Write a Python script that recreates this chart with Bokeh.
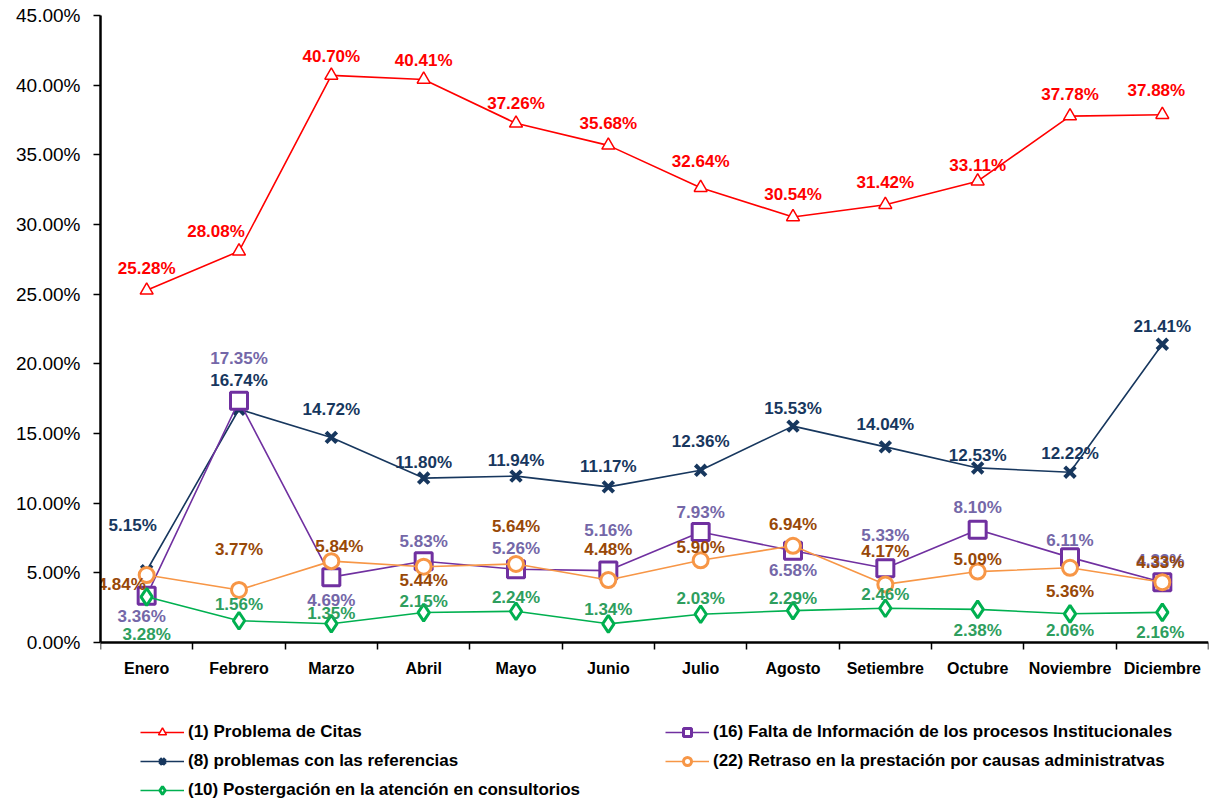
from bokeh.plotting import figure
from bokeh.models import (ColumnDataSource, Range1d, FixedTicker, PrintfTickFormatter,
                          Legend, LegendItem)
from bokeh.core.properties import value
from bokeh.embed import file_html
from bokeh.resources import INLINE

months = ["Enero", "Febrero", "Marzo", "Abril", "Mayo", "Junio", "Julio",
          "Agosto", "Setiembre", "Octubre", "Noviembre", "Diciembre"]

citas = [25.28, 28.08, 40.70, 40.41, 37.26, 35.68, 32.64, 30.54, 31.42, 33.11, 37.78, 37.88]
referencias = [5.15, 16.74, 14.72, 11.80, 11.94, 11.17, 12.36, 15.53, 14.04, 12.53, 12.22, 21.41]
falta_info = [3.36, 17.35, 4.69, 5.83, 5.26, 5.16, 7.93, 6.58, 5.33, 8.10, 6.11, 4.33]
retraso = [4.84, 3.77, 5.84, 5.44, 5.64, 4.48, 5.90, 6.94, 4.17, 5.09, 5.36, 4.33]
postergacion = [3.28, 1.56, 1.35, 2.15, 2.24, 1.34, 2.03, 2.29, 2.46, 2.38, 2.06, 2.16]

names = ["(1) Problema de Citas",
         "(8) problemas con las referencias",
         "(16) Falta de Información de los procesos Institucionales",
         "(22) Retraso en la prestación por causas administratvas",
         "(10) Postergación en la atención en consultorios"]

y_ticks = [0, 5, 10, 15, 20, 25, 30, 35, 40, 45]

# label placement (screen px offsets from each point)
citas_dx = [0, -23, 0, 0, 0, 0, 0, 0, 0, 0, 0, -6]
citas_dy = [-22, -20, -19, -19, -20, -22, -26, -22, -22, -16, -22, -24]
ref_dx = [-14, 0, 0, 0, 0, 0, 0, 0, 0, 0, 0, 0]
ref_dy = [-45, -29, -28, -16, -16, -20, -29, -18, -22, -12, -19, -18]
falta_dx = [-5, 0, 0, 0, 0, 0, 0, 0, 0, 0, 0, -2]
falta_dy = [21, -42, 23, -20, -21, -40, -20, 20, -33, -22, -17, -22]
retraso_dx = [-25, 0, 8, 0, 0, 0, 0, 0, 0, 0, 0, -2]
retraso_dy = [9, -40, -15, 14, -37, -31, -13, -21, -33, -12, 24, -20]
post_dx = [0, 0, 0, 0, 0, 0, 0, 0, 0, 0, 0, -2]
post_dy = [38, -16, -10, -11, -14, -14, -16, -12, -14, 21, 17, 20]

FONT = "Liberation Sans"

x = [i + 0.5 for i in range(len(months))]

W, H = 1209, 802
TOP, BOTTOM, LEFT, RIGHT = 15, 2, 100, 1
frame_h = H - TOP - BOTTOM
axis_px = 627.0  # pixel height of the 0..45 part
y_min = 45 - 45 * frame_h / axis_px

p = figure(width=W, height=H, x_range=Range1d(0, 12), y_range=Range1d(y_min, 45),
           output_backend="svg", toolbar_location=None,
           min_border_left=LEFT, min_border_right=RIGHT, min_border_top=TOP,
           min_border_bottom=BOTTOM)
p.grid.visible = False
p.outline_line_color = None
p.background_fill_color = "white"
p.border_fill_color = "white"

# x axis drawn at y = 0, labels at category centres, ticks at boundaries
xa = p.xaxis[0]
xa.fixed_location = 0
xa.ticker = FixedTicker(ticks=x, minor_ticks=list(range(13)))
xa.major_label_overrides = {xi: m for xi, m in zip(x, months)}
xa.major_tick_line_color = None
xa.major_tick_out = 7
xa.major_tick_in = 0
xa.minor_tick_out = 7
xa.minor_tick_in = 0
xa.minor_tick_line_color = "black"
xa.minor_tick_line_width = 1.5
xa.axis_line_width = 2.5
xa.axis_line_color = "black"
xa.major_label_standoff = 10
xa.major_label_text_font = FONT
xa.major_label_text_font_style = "bold"
xa.major_label_text_font_size = "16px"
xa.major_label_text_color = "black"

ya = p.yaxis[0]
ya.bounds = (0, 45)
ya.ticker = FixedTicker(ticks=y_ticks)
ya.formatter = PrintfTickFormatter(format="%.2f%%")
ya.major_tick_out = 7
ya.major_tick_in = 0
ya.major_tick_line_width = 1.5
ya.minor_tick_line_color = None
ya.axis_line_width = 2.5
ya.axis_line_color = "black"
ya.major_label_standoff = 13
ya.major_label_text_font = FONT
ya.major_label_text_font_size = "19px"
ya.major_label_text_color = "black"

series = [
    (citas, "#FF0000", "triangle", 13, 1.5, "#FF0000", citas_dx, citas_dy),
    (referencias, "#17375E", "x", 15, 4, "#17375E", ref_dx, ref_dy),
    (falta_info, "#7030A0", "square", 17, 3, "#7467A8", falta_dx, falta_dy),
    (retraso, "#F79646", "circle", 15, 3, "#984807", retraso_dx, retraso_dy),
    (postergacion, "#00B050", "diamond", 17, 3, "#2E9E5E", post_dx, post_dy),
]

items = []
for (vals, col, mk, sz, lw, lcol, dx, dy), nm in zip(series, names):
    src = ColumnDataSource(dict(x=x, y=vals))
    ln = p.line("x", "y", source=src, line_color=col, line_width=1.6)
    sc = p.scatter("x", "y", source=src, marker=mk, size=sz, fill_color="white",
                   line_color=col, line_width=lw)
    items.append(LegendItem(label=nm, renderers=[ln, sc]))

for (vals, col, mk, sz, lw, lcol, dx, dy) in series:
    tsrc = ColumnDataSource(dict(x=x, y=vals, t=["%.2f%%" % v for v in vals], dx=dx, dy=dy))
    p.text("x", "y", text="t", source=tsrc, x_offset="dx", y_offset="dy",
           text_align="center", text_baseline="middle", text_color=lcol,
           text_font=value(FONT), text_font_style="bold", text_font_size="17px")


def make_legend(its, loc):
    lg = Legend(items=its, location=loc, orientation="vertical")
    lg.border_line_color = None
    lg.background_fill_alpha = 0
    lg.label_text_font = FONT
    lg.label_text_font_style = "bold"
    lg.label_text_font_size = "17px"
    lg.label_text_color = "black"
    lg.glyph_width = 44
    lg.glyph_height = 20
    lg.label_height = 20
    lg.label_standoff = 4
    lg.spacing = 9
    lg.padding = 0
    lg.margin = 0
    return lg


left_leg = make_legend([items[0], items[1], items[4]], (40, 0))
right_leg = make_legend([items[2], items[3]], (565, 29))
p.add_layout(left_leg, "center")
p.add_layout(right_leg, "center")

open("out.html", "w").write(file_html(p, INLINE))
